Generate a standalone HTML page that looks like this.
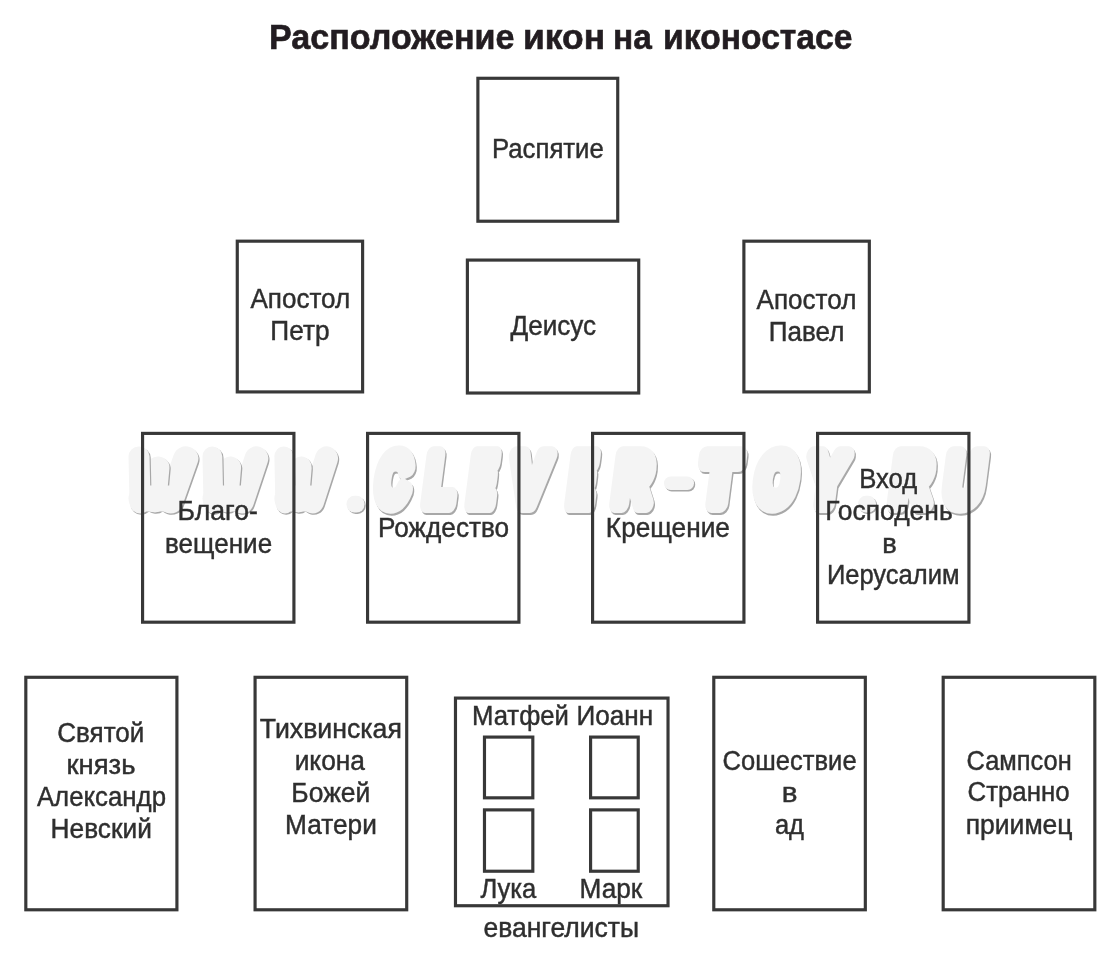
<!DOCTYPE html>
<html><head><meta charset="utf-8"><title>Расположение икон на иконостасе</title>
<style>html,body{margin:0;padding:0;background:#fff;}svg{display:block;}text{font-family:"Liberation Sans",sans-serif;}</style></head><body>
<svg width="1119" height="960" viewBox="0 0 1119 960">
<defs><filter id="bl" filterUnits="userSpaceOnUse" x="0" y="0" width="1119" height="960"><feGaussianBlur stdDeviation="0.5"/></filter></defs>
<rect x="0" y="0" width="1119" height="960" fill="#fff"/>
<g filter="url(#bl)">
<g font-family="Liberation Sans" font-weight="bold" font-style="normal" font-size="71" stroke-linejoin="round" stroke-linecap="round" stroke-width="18">
<text transform="matrix(0.6336 0 -0.1300 1 375.56 505.60)" fill="#a8a8a8" stroke="#a8a8a8">C</text>
<text transform="matrix(0.6638 0 -0.1300 1 424.19 505.60)" fill="#a8a8a8" stroke="#a8a8a8">L</text>
<text transform="matrix(0.5463 0 -0.1300 1 467.88 505.60)" fill="#a8a8a8" stroke="#a8a8a8">E</text>
<text transform="matrix(0.7544 0 -0.1300 1 510.31 505.60)" fill="#a8a8a8" stroke="#a8a8a8">V</text>
<text transform="matrix(0.5353 0 -0.1300 1 567.74 505.60)" fill="#a8a8a8" stroke="#a8a8a8">E</text>
<text transform="matrix(0.7039 0 -0.1300 1 613.50 505.60)" fill="#a8a8a8" stroke="#a8a8a8">R</text>
<text transform="matrix(0.8069 0 -0.1300 1 700.55 505.60)" fill="#a8a8a8" stroke="#a8a8a8">T</text>
<text transform="matrix(0.7052 0 -0.1300 1 755.08 505.60)" fill="#a8a8a8" stroke="#a8a8a8">O</text>
<text transform="matrix(0.7643 0 -0.1300 1 807.23 505.60)" fill="#a8a8a8" stroke="#a8a8a8">Y</text>
<text transform="matrix(0.7465 0 -0.1300 1 890.98 505.60)" fill="#a8a8a8" stroke="#a8a8a8">R</text>
<text transform="matrix(0.7219 0 -0.1300 1 944.23 505.60)" fill="#a8a8a8" stroke="#a8a8a8">U</text>
<rect x="347.70" y="497.20" width="18.00" height="16.70" rx="8.00" fill="#a8a8a8" stroke="none"/>
<rect x="665.20" y="477.90" width="30.00" height="13.50" rx="6.50" fill="#a8a8a8" stroke="none"/>
<rect x="859.20" y="497.20" width="18.00" height="16.70" rx="8.00" fill="#a8a8a8" stroke="none"/>
<rect x="346.50" y="495.80" width="18.00" height="16.70" rx="8.00" fill="#f4f4f4" stroke="none"/>
<rect x="664.00" y="476.50" width="30.00" height="13.50" rx="6.50" fill="#f4f4f4" stroke="none"/>
<rect x="858.00" y="495.80" width="18.00" height="16.70" rx="8.00" fill="#f4f4f4" stroke="none"/>
<path transform="matrix(1.0511 0 0 1 129.70 447.80)" d="M54.5 12 L40 55" fill="none" stroke="#a8a8a8" stroke-width="24" stroke-linecap="round"/>
<path transform="matrix(1.0511 0 0 1 128.50 446.40)" d="M54.5 12 L40 55" fill="none" stroke="#f4f4f4" stroke-width="24" stroke-linecap="round"/>
<path transform="matrix(1.0511 0 0 1 129.70 447.80)" d="M28 21 L25 55" fill="none" stroke="#a8a8a8" stroke-width="22" stroke-linecap="round"/>
<path transform="matrix(1.0511 0 0 1 128.50 446.40)" d="M28 21 L25 55" fill="none" stroke="#f4f4f4" stroke-width="22" stroke-linecap="round"/>
<path transform="matrix(1.0511 0 0 1 129.70 447.80)" d="M10 10 L11 57" fill="none" stroke="#a8a8a8" stroke-width="20" stroke-linecap="round"/>
<path transform="matrix(1.0511 0 0 1 128.50 446.40)" d="M10 10 L11 57" fill="none" stroke="#f4f4f4" stroke-width="20" stroke-linecap="round"/>
<path transform="matrix(1.0511 0 0 1 128.50 446.40)" d="M13 52 L38 52" fill="none" stroke="#f4f4f4" stroke-width="26" stroke-linecap="round"/>
<path transform="matrix(0.9895 0 0 1 203.70 447.80)" d="M54.5 12 L40 55" fill="none" stroke="#a8a8a8" stroke-width="24" stroke-linecap="round"/>
<path transform="matrix(0.9895 0 0 1 202.50 446.40)" d="M54.5 12 L40 55" fill="none" stroke="#f4f4f4" stroke-width="24" stroke-linecap="round"/>
<path transform="matrix(0.9895 0 0 1 203.70 447.80)" d="M28 21 L25 55" fill="none" stroke="#a8a8a8" stroke-width="22" stroke-linecap="round"/>
<path transform="matrix(0.9895 0 0 1 202.50 446.40)" d="M28 21 L25 55" fill="none" stroke="#f4f4f4" stroke-width="22" stroke-linecap="round"/>
<path transform="matrix(0.9895 0 0 1 203.70 447.80)" d="M10 10 L11 57" fill="none" stroke="#a8a8a8" stroke-width="20" stroke-linecap="round"/>
<path transform="matrix(0.9895 0 0 1 202.50 446.40)" d="M10 10 L11 57" fill="none" stroke="#f4f4f4" stroke-width="20" stroke-linecap="round"/>
<path transform="matrix(0.9895 0 0 1 202.50 446.40)" d="M13 52 L38 52" fill="none" stroke="#f4f4f4" stroke-width="26" stroke-linecap="round"/>
<path transform="matrix(0.9564 0 0 1 275.60 447.80)" d="M54.5 12 L40 55" fill="none" stroke="#a8a8a8" stroke-width="24" stroke-linecap="round"/>
<path transform="matrix(0.9564 0 0 1 274.40 446.40)" d="M54.5 12 L40 55" fill="none" stroke="#f4f4f4" stroke-width="24" stroke-linecap="round"/>
<path transform="matrix(0.9564 0 0 1 275.60 447.80)" d="M28 21 L25 55" fill="none" stroke="#a8a8a8" stroke-width="22" stroke-linecap="round"/>
<path transform="matrix(0.9564 0 0 1 274.40 446.40)" d="M28 21 L25 55" fill="none" stroke="#f4f4f4" stroke-width="22" stroke-linecap="round"/>
<path transform="matrix(0.9564 0 0 1 275.60 447.80)" d="M10 10 L11 57" fill="none" stroke="#a8a8a8" stroke-width="20" stroke-linecap="round"/>
<path transform="matrix(0.9564 0 0 1 274.40 446.40)" d="M10 10 L11 57" fill="none" stroke="#f4f4f4" stroke-width="20" stroke-linecap="round"/>
<path transform="matrix(0.9564 0 0 1 274.40 446.40)" d="M13 52 L38 52" fill="none" stroke="#f4f4f4" stroke-width="26" stroke-linecap="round"/>
<text transform="matrix(0.6336 0 -0.1300 1 374.36 504.20)" fill="#f4f4f4" stroke="#f4f4f4">C</text>
<text transform="matrix(0.6638 0 -0.1300 1 422.99 504.20)" fill="#f4f4f4" stroke="#f4f4f4">L</text>
<text transform="matrix(0.5463 0 -0.1300 1 466.68 504.20)" fill="#f4f4f4" stroke="#f4f4f4">E</text>
<text transform="matrix(0.7544 0 -0.1300 1 509.11 504.20)" fill="#f4f4f4" stroke="#f4f4f4">V</text>
<text transform="matrix(0.5353 0 -0.1300 1 566.54 504.20)" fill="#f4f4f4" stroke="#f4f4f4">E</text>
<text transform="matrix(0.7039 0 -0.1300 1 612.30 504.20)" fill="#f4f4f4" stroke="#f4f4f4">R</text>
<text transform="matrix(0.8069 0 -0.1300 1 699.35 504.20)" fill="#f4f4f4" stroke="#f4f4f4">T</text>
<text transform="matrix(0.7052 0 -0.1300 1 753.88 504.20)" fill="#f4f4f4" stroke="#f4f4f4">O</text>
<text transform="matrix(0.7643 0 -0.1300 1 806.03 504.20)" fill="#f4f4f4" stroke="#f4f4f4">Y</text>
<text transform="matrix(0.7465 0 -0.1300 1 889.78 504.20)" fill="#f4f4f4" stroke="#f4f4f4">R</text>
<text transform="matrix(0.7219 0 -0.1300 1 943.03 504.20)" fill="#f4f4f4" stroke="#f4f4f4">U</text>
</g>
<g fill="none" stroke="#383838" stroke-width="3.15">
<rect x="477.88" y="78.28" width="139.85" height="142.95"/>
<rect x="237.27" y="241.17" width="125.35" height="150.75"/>
<rect x="467.38" y="260.07" width="171.35" height="132.95"/>
<rect x="743.88" y="241.17" width="125.45" height="150.75"/>
<rect x="142.57" y="433.38" width="151.35" height="188.80"/>
<rect x="367.57" y="433.38" width="151.35" height="188.80"/>
<rect x="592.58" y="433.38" width="151.35" height="188.80"/>
<rect x="817.58" y="433.38" width="151.35" height="188.80"/>
<rect x="25.82" y="677.28" width="151.10" height="232.50"/>
<rect x="255.07" y="677.28" width="151.65" height="232.50"/>
<rect x="455.47" y="698.08" width="212.55" height="207.65"/>
<rect x="713.78" y="677.28" width="151.55" height="232.50"/>
<rect x="943.18" y="677.28" width="151.65" height="232.50"/>
<rect x="484.47" y="737.08" width="48.35" height="60.75"/>
<rect x="590.58" y="737.08" width="47.65" height="60.75"/>
<rect x="484.47" y="809.88" width="48.35" height="61.35"/>
<rect x="590.58" y="809.88" width="47.65" height="61.35"/>
</g>
<text transform="matrix(0.9882 0 0 1.0000 269.02 48.70)" font-size="34.5" font-weight="bold" fill="#231f20" stroke="#231f20" stroke-width="0.6">Расположение</text>
<text transform="matrix(1.0272 0 0 1.0000 522.93 48.70)" font-size="34.5" font-weight="bold" fill="#231f20" stroke="#231f20" stroke-width="0.6">икон</text>
<text transform="matrix(0.9690 0 0 1.0000 613.06 48.70)" font-size="34.5" font-weight="bold" fill="#231f20" stroke="#231f20" stroke-width="0.6">на</text>
<text transform="matrix(0.9760 0 0 1.0000 663.04 48.70)" font-size="34.5" font-weight="bold" fill="#231f20" stroke="#231f20" stroke-width="0.6">иконостасе</text>
<text transform="matrix(0.9266 0 0 1.0000 491.94 158.20)" font-size="27.8" fill="#2e2e2e" stroke="#2e2e2e" stroke-width="0.45">Распятие</text>
<text transform="matrix(0.9383 0 0 1.0000 250.40 307.70)" font-size="27.8" fill="#2e2e2e" stroke="#2e2e2e" stroke-width="0.45">Апостол</text>
<text transform="matrix(0.9446 0 0 1.0000 270.37 339.50)" font-size="27.8" fill="#2e2e2e" stroke="#2e2e2e" stroke-width="0.45">Петр</text>
<text transform="matrix(0.9394 0 0 1.0000 510.49 334.80)" font-size="27.8" fill="#2e2e2e" stroke="#2e2e2e" stroke-width="0.45">Деисус</text>
<text transform="matrix(0.9381 0 0 1.0000 756.58 308.70)" font-size="27.8" fill="#2e2e2e" stroke="#2e2e2e" stroke-width="0.45">Апостол</text>
<text transform="matrix(0.9362 0 0 1.0000 768.85 340.70)" font-size="27.8" fill="#2e2e2e" stroke="#2e2e2e" stroke-width="0.45">Павел</text>
<text transform="matrix(0.9579 0 0 1.0000 177.53 520.40)" font-size="27.8" fill="#2e2e2e" stroke="#2e2e2e" stroke-width="0.45">Благо-</text>
<text transform="matrix(0.9373 0 0 1.0000 165.05 552.60)" font-size="27.8" fill="#2e2e2e" stroke="#2e2e2e" stroke-width="0.45">вещение</text>
<text transform="matrix(0.9419 0 0 1.0000 377.99 536.50)" font-size="27.8" fill="#2e2e2e" stroke="#2e2e2e" stroke-width="0.45">Рождество</text>
<text transform="matrix(0.9440 0 0 1.0000 605.86 536.50)" font-size="27.8" fill="#2e2e2e" stroke="#2e2e2e" stroke-width="0.45">Крещение</text>
<text transform="matrix(0.9251 0 0 1.0000 859.20 487.70)" font-size="27.8" fill="#2e2e2e" stroke="#2e2e2e" stroke-width="0.45">Вход</text>
<text transform="matrix(0.9519 0 0 1.0000 825.21 520.20)" font-size="27.8" fill="#2e2e2e" stroke="#2e2e2e" stroke-width="0.45">Господень</text>
<text transform="matrix(0.9850 0 0 1.0000 882.22 552.50)" font-size="27.8" fill="#2e2e2e" stroke="#2e2e2e" stroke-width="0.45">в</text>
<text transform="matrix(0.9186 0 0 1.0000 826.89 583.90)" font-size="27.8" fill="#2e2e2e" stroke="#2e2e2e" stroke-width="0.45">Иерусалим</text>
<text transform="matrix(0.9374 0 0 1.0000 57.16 742.00)" font-size="27.8" fill="#2e2e2e" stroke="#2e2e2e" stroke-width="0.45">Святой</text>
<text transform="matrix(0.9877 0 0 1.0000 66.55 773.90)" font-size="27.8" fill="#2e2e2e" stroke="#2e2e2e" stroke-width="0.45">князь</text>
<text transform="matrix(0.9287 0 0 1.0000 36.90 805.70)" font-size="27.8" fill="#2e2e2e" stroke="#2e2e2e" stroke-width="0.45">Александр</text>
<text transform="matrix(0.9455 0 0 1.0000 50.57 837.50)" font-size="27.8" fill="#2e2e2e" stroke="#2e2e2e" stroke-width="0.45">Невский</text>
<text transform="matrix(0.9605 0 0 1.0000 259.76 738.40)" font-size="27.8" fill="#2e2e2e" stroke="#2e2e2e" stroke-width="0.45">Тихвинская</text>
<text transform="matrix(0.9473 0 0 1.0000 294.66 770.20)" font-size="27.8" fill="#2e2e2e" stroke="#2e2e2e" stroke-width="0.45">икона</text>
<text transform="matrix(0.9529 0 0 1.0000 291.33 802.10)" font-size="27.8" fill="#2e2e2e" stroke="#2e2e2e" stroke-width="0.45">Божей</text>
<text transform="matrix(0.9434 0 0 1.0000 285.12 834.20)" font-size="27.8" fill="#2e2e2e" stroke="#2e2e2e" stroke-width="0.45">Матери</text>
<text transform="matrix(0.9240 0 0 1.0000 471.98 725.00)" font-size="27.8" fill="#2e2e2e" stroke="#2e2e2e" stroke-width="0.45">Матфей</text>
<text transform="matrix(0.9411 0 0 1.0000 576.41 725.00)" font-size="27.8" fill="#2e2e2e" stroke="#2e2e2e" stroke-width="0.45">Иоанн</text>
<text transform="matrix(0.9204 0 0 1.0000 480.40 898.40)" font-size="27.8" fill="#2e2e2e" stroke="#2e2e2e" stroke-width="0.45">Лука</text>
<text transform="matrix(0.9433 0 0 1.0000 579.56 898.40)" font-size="27.8" fill="#2e2e2e" stroke="#2e2e2e" stroke-width="0.45">Марк</text>
<text transform="matrix(0.9544 0 0 1.0000 483.41 936.60)" font-size="27.8" fill="#2e2e2e" stroke="#2e2e2e" stroke-width="0.45">евангелисты</text>
<text transform="matrix(0.9206 0 0 1.0000 722.57 769.80)" font-size="27.8" fill="#2e2e2e" stroke="#2e2e2e" stroke-width="0.45">Сошествие</text>
<text transform="matrix(1.0678 0 0 1.0000 781.73 802.00)" font-size="27.8" fill="#2e2e2e" stroke="#2e2e2e" stroke-width="0.45">в</text>
<text transform="matrix(0.9191 0 0 1.0000 774.91 833.60)" font-size="27.8" fill="#2e2e2e" stroke="#2e2e2e" stroke-width="0.45">ад</text>
<text transform="matrix(0.9143 0 0 1.0000 966.53 769.80)" font-size="27.8" fill="#2e2e2e" stroke="#2e2e2e" stroke-width="0.45">Сампсон</text>
<text transform="matrix(0.9300 0 0 1.0000 967.50 801.40)" font-size="27.8" fill="#2e2e2e" stroke="#2e2e2e" stroke-width="0.45">Странно</text>
<text transform="matrix(0.9542 0 0 1.0000 965.67 833.60)" font-size="27.8" fill="#2e2e2e" stroke="#2e2e2e" stroke-width="0.45">приимец</text>
</g>
</svg>
</body></html>
